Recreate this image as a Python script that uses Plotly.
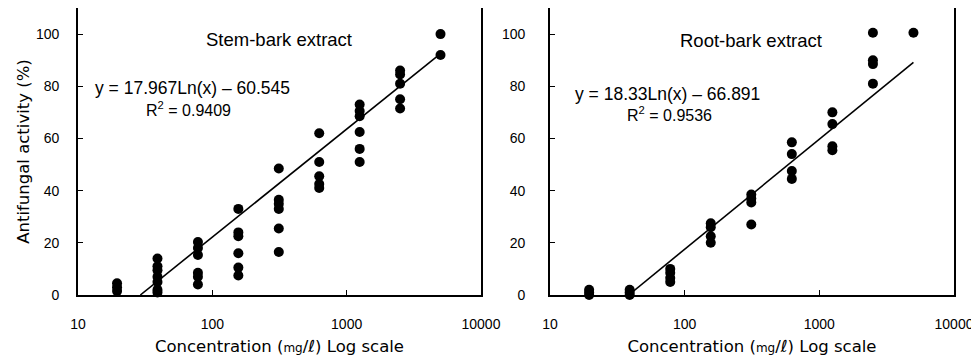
import plotly.graph_objects as go

# ---- data ----
stem_conc = [19.53, 39.06, 78.13, 156.25, 312.5, 625, 1250, 2500, 5000]
stem_values = [
    [4.5, 3, 1.5],
    [14, 11, 9.5, 7, 5, 2, 1],
    [20.3, 18, 15.3, 8.5, 7, 4],
    [33, 24, 22.5, 16, 10.5, 7.5],
    [48.5, 36.5, 35, 33, 25.5, 16.5],
    [62, 51, 45.5, 42.5, 41],
    [73, 70.5, 68.5, 62.5, 56, 51],
    [86, 84.5, 81, 75, 71.5],
    [100, 92],
]
root_conc = [19.53, 39.06, 78.13, 156.25, 312.5, 625, 1250, 2500, 5000]
root_values = [
    [2, 1, 0],
    [2, 1, 0],
    [10, 8.5, 6.5, 5],
    [27.5, 26, 22.5, 20],
    [38.5, 37, 35.5, 27],
    [58.5, 54, 47.5, 44.5],
    [70, 65.5, 57, 55.5],
    [100.5, 90, 88.5, 81],
    [100.5],
]
# trend lines (endpoints)
stem_fit_x = [29.1, 5000]
stem_fit_y = [0, 92.5]
root_fit_x = [38.4, 5000]
root_fit_y = [0, 89.2]

x_ticks = [10, 100, 1000, 10000]
x_ticklabels = ["10", "100", "1000", "10000"]
y_ticks = [0, 20, 40, 60, 80, 100]

stem_title = "Stem-bark extract"
stem_eq = "y = 17.967Ln(x) – 60.545"
stem_r2 = "R<sup>2</sup> = 0.9409"
root_title = "Root-bark extract"
root_eq = "y = 18.33Ln(x) – 66.891"
root_r2 = "R<sup>2</sup> = 0.9536"

x_title = "Concentration (<span style='font-size:12px'>mg</span>/<i>ℓ</i>) Log scale"
y_title = "Antifungal activity (%)"


def flatten(conc, vals):
    xs, ys = [], []
    for c, vs in zip(conc, vals):
        for v in vs:
            xs.append(c)
            ys.append(v)
    return xs, ys


FONT = "Liberation Sans, Arial, sans-serif"
TFONT = "DejaVu Sans, sans-serif"
fig = go.Figure()

sx, sy = flatten(stem_conc, stem_values)
rx, ry = flatten(root_conc, root_values)

marker = dict(color="black", size=10)
line = dict(color="black", width=1.6)

fig.add_trace(go.Scatter(x=stem_fit_x, y=stem_fit_y, mode="lines", line=line,
                         xaxis="x", yaxis="y", showlegend=False))
fig.add_trace(go.Scatter(x=sx, y=sy, mode="markers", marker=marker,
                         xaxis="x", yaxis="y", showlegend=False, cliponaxis=False))
fig.add_trace(go.Scatter(x=root_fit_x, y=root_fit_y, mode="lines", line=line,
                         xaxis="x2", yaxis="y2", showlegend=False))
fig.add_trace(go.Scatter(x=rx, y=ry, mode="markers", marker=marker,
                         xaxis="x2", yaxis="y2", showlegend=False, cliponaxis=False))

axis_common = dict(showline=True, linecolor="black", linewidth=1.6, mirror=True,
                   ticks="inside", ticklen=5, tickcolor="black", tickwidth=1,
                   showgrid=False, zeroline=False, automargin=False,
                   tickfont=dict(family=FONT, size=14, color="black"))

xcommon = dict(axis_common, type="log", range=[1, 4], tickvals=x_ticks,
               ticktext=x_ticklabels, ticklabelstandoff=15,
               title=dict(text=x_title, font=dict(family=TFONT, size=16.5, color="black"),
                          standoff=10))
ycommon = dict(axis_common, range=[0, 110], tickvals=y_ticks)

# the page body adds an 8px offset, so the figure is sized to fit inside the window
fig.update_layout(
    width=971, height=355,
    margin=dict(l=70, r=25, t=0, b=68),
    plot_bgcolor="white", paper_bgcolor="white",
    font=dict(family=FONT, size=14, color="black"),
    xaxis=dict(xcommon, domain=[0, 0.46], anchor="y"),
    yaxis=dict(ycommon, domain=[0, 1], anchor="x", ticklabelstandoff=14,
               title=dict(text=y_title, font=dict(family=TFONT, size=16.5, color="black"),
                          standoff=2)),
    xaxis2=dict(xcommon, domain=[0.5388, 1], anchor="y2"),
    yaxis2=dict(ycommon, domain=[0, 1], anchor="x2", ticklabelstandoff=20),
)

annotations = [
    dict(text=stem_title, x=2.496, y=98.1, xref="x", yref="y", font_size=18.5),
    dict(text=stem_eq, x=1.852, y=79.4, xref="x", yref="y", font_size=17.5),
    dict(text=stem_r2, x=1.826, y=71.4, xref="x", yref="y", font_size=16),
    dict(text=root_title, x=2.493, y=97.7, xref="x2", yref="y2", font_size=18.5),
    dict(text=root_eq, x=1.876, y=77.1, xref="x2", yref="y2", font_size=17.5),
    dict(text=root_r2, x=1.884, y=69.5, xref="x2", yref="y2", font_size=16),
]
for a in annotations:
    size = a.pop("font_size")
    a.update(showarrow=False, font=dict(family=FONT, size=size, color="black"),
             xanchor="center", yanchor="middle")
fig.update_layout(annotations=annotations)

fig.write_html("out.html")
